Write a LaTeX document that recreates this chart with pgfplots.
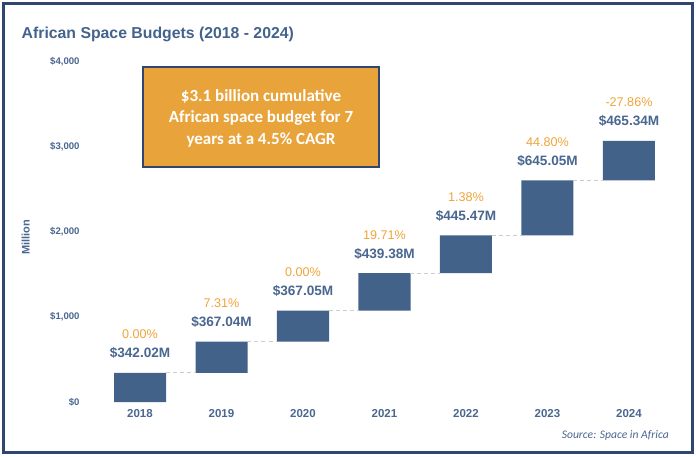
\documentclass[border=0pt]{standalone}
\usepackage{pgfplots}
\pgfplotsset{compat=1.18}
\usepackage{pgfplotstable}
\usepackage{fontspec}
\setmainfont{Liberation Sans}
\newfontfamily\carlito{Carlito}
\definecolor{navy}{HTML}{2F4670}
\definecolor{titleblue}{HTML}{44638C}
\definecolor{barblue}{HTML}{43628A}
\definecolor{labblue}{HTML}{4A6790}
\definecolor{pctorange}{HTML}{F0A43A}
\definecolor{boxorange}{HTML}{E8A33A}
\definecolor{dashgray}{HTML}{C9CED6}

\pgfplotstableread{
x base inc val pct top
0 0 342.02 342.02 0.00 342.02
1 342.02 367.04 367.04 7.31 709.06
2 709.06 367.05 367.05 0.00 1076.11
3 1076.11 439.38 439.38 19.71 1515.49
4 1515.49 445.47 445.47 1.38 1960.96
5 1960.96 645.05 645.05 44.80 2606.01
6 2606.01 465.34 465.34 -27.86 3071.35
}\budgets

\begin{document}
\begin{tikzpicture}[x=1pt,y=1pt]
\useasboundingbox (0,0) rectangle (696,456);
\fill[white] (0,0) rectangle (696,456);
\draw[navy, line width=3pt] (3.5,3.5) rectangle (692,452.5);

\pgfplotsset{
  myaxis/.style={
    at={(99.25pt,54pt)}, anchor=south west,
    scale only axis, width=570.5pt, height=340pt,
    xmin=-0.5, xmax=6.5, ymin=0, ymax=4000,
    clip=false,
  }
}

\begin{axis}[myaxis,
  ybar stacked, bar width=52pt,
  axis line style={draw=none},
  major tick length=0pt,
  xtick={0,1,2,3,4,5,6},
  xticklabels={2018,2019,2020,2021,2022,2023,2024},
  ytick={0,1000,2000,3000,4000},
  scaled y ticks=false,
  /pgf/number format/assume math mode=true,
  /pgf/number format/1000 sep={,},
  yticklabel={\$\pgfmathprintnumber{\tick}},
  yticklabel style={font=\fontsize{9.6}{11}\selectfont\bfseries, text=labblue, anchor=east, inner sep=0pt, xshift=-19.5pt},
  xticklabel style={font=\fontsize{11.5}{13}\selectfont\bfseries, text=labblue, anchor=center, inner sep=0pt, yshift=-11.7pt},
  ylabel={Million},
  ylabel style={font=\fontsize{11}{13}\selectfont\bfseries, text=labblue, at={(axis description cs:-0.129,0.485)}, anchor=center},
]
\addplot[fill=none, draw=none] table[x=x, y=base] {\budgets};
\addplot[fill=barblue, draw=none] table[x=x, y=inc] {\budgets};
\end{axis}

\begin{axis}[myaxis, hide axis]
\addplot[dashgray, line width=0.9pt, dash pattern=on 4pt off 3pt] coordinates {(0.319,342.02) (0.681,342.02)};
\addplot[dashgray, line width=0.9pt, dash pattern=on 4pt off 3pt] coordinates {(1.319,709.06) (1.681,709.06)};
\addplot[dashgray, line width=0.9pt, dash pattern=on 4pt off 3pt] coordinates {(2.319,1076.11) (2.681,1076.11)};
\addplot[dashgray, line width=0.9pt, dash pattern=on 4pt off 3pt] coordinates {(3.319,1515.49) (3.681,1515.49)};
\addplot[dashgray, line width=0.9pt, dash pattern=on 4pt off 3pt] coordinates {(4.319,1960.96) (4.681,1960.96)};
\addplot[dashgray, line width=0.9pt, dash pattern=on 4pt off 3pt] coordinates {(5.319,2606.01) (5.681,2606.01)};
\addplot[draw=none, mark=none, point meta=explicit symbolic,
  nodes near coords={\$\pgfplotspointmeta M},
  every node near coord/.append style={anchor=center, yshift=19.5pt, inner sep=0pt,
    font=\fontsize{13.6}{15}\selectfont\bfseries, text=labblue}]
  table[x=x, y=top, meta=val] {\budgets};
\addplot[draw=none, mark=none, point meta=explicit symbolic,
  nodes near coords={\pgfplotspointmeta\%},
  every node near coord/.append style={anchor=center, yshift=38.5pt, inner sep=0pt,
    font=\fontsize{12.6}{14}\selectfont, text=pctorange}]
  table[x=x, y=top, meta=pct] {\budgets};
\end{axis}

\node[draw=navy, line width=2pt, fill=boxorange, minimum width=236pt, minimum height=100pt, inner sep=0pt] at (261,339) {};
\node[align=center, text=white, font=\carlito\bfseries\fontsize{17}{21.3}\selectfont, inner sep=0pt] at (261,337.7)
  {\$3.1 billion cumulative\\African space budget for 7\\years at a 4.5\% CAGR};

\node[anchor=base west, inner sep=0pt, text=titleblue, font=\fontsize{15.8}{18}\selectfont\bfseries] at (21.5,417.5)
  {African Space Budgets (2018 - 2024)};

\node[anchor=east, inner sep=0pt, text=labblue, font=\carlito\itshape\fontsize{11.6}{13}\selectfont] at (669,21)
  {Source: Space in Africa};
\end{tikzpicture}
\end{document}
